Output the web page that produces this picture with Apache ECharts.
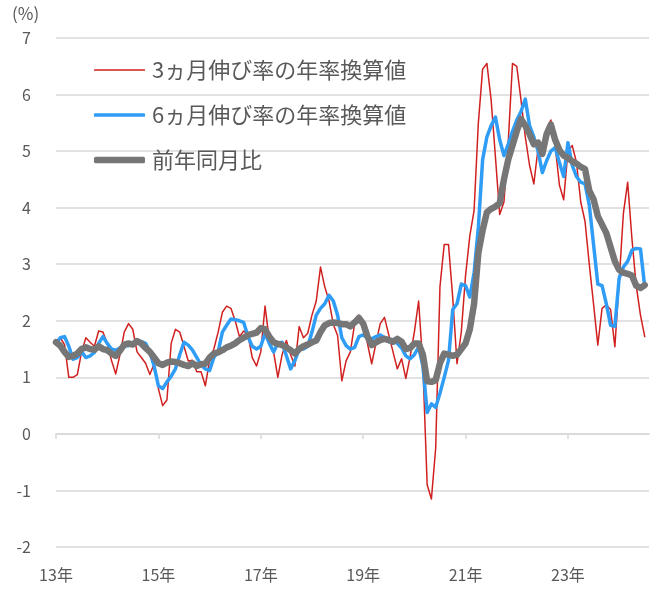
<!DOCTYPE html>
<html>
<head>
<meta charset="utf-8">
<script src="https://cdn.jsdelivr.net/npm/echarts@6/dist/echarts.min.js"></script>
<style>
html,body{margin:0;padding:0;background:#fff;}
#chart{width:657px;height:589px;}
</style>
</head>
<body>
<div id="chart"></div>
<script>
// Monthly categories 2013-01 .. 2024-08
const months = [];
for (let y = 2013; y <= 2024; y++) {
  for (let m = 1; m <= 12; m++) {
    if (y === 2024 && m > 8) break;
    months.push(y + '-' + (m < 10 ? '0' + m : m));
  }
}
const seriesNames = ['3ヵ月伸び率の年率換算値', '6ヵ月伸び率の年率換算値', '前年同月比'];
const yTicks = { min: -2, max: 7, step: 1 };

const threeMonth = [
  1.62,1.7,1.58,1.0,1.0,1.05,1.45,1.7,1.62,1.55,1.82,1.8,
  1.6,1.3,1.06,1.4,1.8,1.95,1.85,1.45,1.35,1.25,1.05,1.24,
  0.8,0.5,0.6,1.6,1.85,1.8,1.55,1.29,1.3,1.1,1.1,0.85,
  1.3,1.5,1.8,2.15,2.26,2.22,2.0,1.72,1.82,1.75,1.35,1.2,
  1.45,2.26,1.65,1.45,1.0,1.4,1.65,1.4,1.2,1.9,1.7,1.78,
  2.1,2.35,2.95,2.6,2.35,1.94,1.74,0.94,1.29,1.45,1.95,2.1,
  2.0,1.6,1.24,1.6,1.95,2.06,1.75,1.45,1.15,1.33,0.98,1.36,
  1.8,2.35,1.2,-0.9,-1.15,-0.25,2.6,3.35,3.35,2.4,1.24,1.8,
  2.8,3.5,3.95,5.5,6.45,6.55,5.9,4.9,3.88,4.1,5.15,6.55,
  6.5,5.9,5.25,4.75,4.42,5.05,4.95,5.4,5.55,5.1,4.4,4.14,
  5.0,5.1,4.8,4.1,3.76,3.0,2.3,1.57,2.22,2.28,2.2,1.54,
  2.7,3.9,4.45,3.45,2.62,2.1,1.72
];
const sixMonth = [
  1.6,1.7,1.72,1.55,1.32,1.35,1.45,1.35,1.38,1.44,1.6,1.72,
  1.6,1.5,1.48,1.52,1.56,1.56,1.6,1.65,1.63,1.6,1.45,1.2,
  0.85,0.8,0.92,1.02,1.15,1.4,1.62,1.57,1.48,1.35,1.22,1.15,
  1.12,1.35,1.45,1.8,1.92,2.03,2.02,2.0,1.97,1.72,1.55,1.5,
  1.55,1.78,1.6,1.45,1.6,1.62,1.38,1.15,1.3,1.5,1.5,1.55,
  1.8,2.1,2.22,2.3,2.45,2.35,2.1,1.7,1.56,1.5,1.53,1.72,
  1.75,1.7,1.68,1.72,1.75,1.7,1.63,1.67,1.6,1.52,1.38,1.33,
  1.4,1.54,1.2,0.38,0.53,0.47,0.72,1.0,1.3,2.2,2.3,2.65,
  2.62,2.42,2.85,3.65,4.85,5.25,5.45,5.6,5.2,4.92,5.12,5.35,
  5.55,5.7,5.92,5.45,5.25,5.0,4.62,4.83,5.0,5.06,4.8,4.55,
  5.15,4.75,4.55,4.45,4.42,4.05,3.35,2.65,2.62,2.3,1.92,1.9,
  2.75,2.95,3.05,3.25,3.28,3.27,2.6
];
const yoy = [
  1.62,1.56,1.45,1.36,1.38,1.42,1.5,1.53,1.5,1.49,1.55,1.5,
  1.48,1.42,1.38,1.47,1.58,1.6,1.58,1.64,1.6,1.52,1.45,1.35,
  1.25,1.22,1.26,1.28,1.27,1.25,1.22,1.2,1.25,1.2,1.23,1.24,
  1.35,1.42,1.44,1.48,1.53,1.56,1.6,1.66,1.7,1.75,1.77,1.79,
  1.87,1.85,1.72,1.62,1.59,1.57,1.53,1.48,1.42,1.5,1.55,1.58,
  1.62,1.65,1.8,1.92,1.96,1.97,1.96,1.94,1.94,1.9,1.97,2.05,
  1.95,1.72,1.57,1.62,1.66,1.68,1.66,1.63,1.68,1.63,1.5,1.52,
  1.6,1.6,1.4,0.93,0.92,0.95,1.25,1.42,1.4,1.38,1.4,1.5,
  1.6,1.85,2.3,3.2,3.6,3.92,3.98,4.02,4.08,4.5,4.85,5.1,
  5.35,5.57,5.45,5.3,5.12,5.15,4.95,5.3,5.47,5.2,5.02,4.92,
  4.88,4.82,4.78,4.72,4.68,4.3,4.15,3.85,3.7,3.55,3.3,3.05,
  2.9,2.85,2.83,2.8,2.62,2.58,2.63
];

const colors = ['#d0201f', '#2f9cf6', '#767676'];
const widths = [1.5, 3.5, 6.5];
const textColor = '#595959';
const gridColor = '#d9d9d9';
const tickEvery = 24;

const chart = echarts.init(document.getElementById('chart'), null, { renderer: 'canvas' });

const legendTops = [57, 102, 147];
const legends = seriesNames.map((n, k) => ({
  data: [{ name: n, icon: 'roundRect' }],
  left: 94,
  top: legendTops[k],
  padding: 0,
  itemWidth: 51,
  itemHeight: widths[k],
  itemGap: 0,
  selectedMode: false,
  textStyle: { color: textColor, fontSize: 22, fontFamily: 'Noto Sans CJK JP', lineHeight: 26, padding: [0, 0, 0, 2] }
}));

const seriesData = [threeMonth, sixMonth, yoy];

chart.setOption({
  animation: false,
  backgroundColor: '#fff',
  textStyle: { fontFamily: 'Noto Sans CJK JP' },
  graphic: [{
    type: 'text', left: 12, top: 5,
    style: { text: '(%)', fill: textColor, fontSize: 17, fontFamily: 'Noto Sans CJK JP' }
  }],
  legend: legends,
  grid: { left: 56, right: 8, top: 38, bottom: 42 },
  xAxis: [{
    type: 'category',
    data: months,
    boundaryGap: false,
    position: 'bottom',
    axisLine: { show: false, onZero: false },
    axisTick: { show: false },
    splitLine: { show: false },
    axisLabel: {
      interval: (i) => i % tickEvery === 0,
      formatter: (v) => v.slice(2, 4) + '年',
      color: textColor, fontSize: 16, margin: 20,
      fontFamily: 'Noto Sans CJK JP'
    }
  }, {
    type: 'category',
    data: months,
    boundaryGap: false,
    position: 'bottom',
    axisLine: { show: true, onZero: true, lineStyle: { color: gridColor, width: 1.5 } },
    axisTick: { show: true, interval: (i) => i % tickEvery === 0, length: 5, lineStyle: { color: gridColor, width: 1.5 } },
    axisLabel: { show: false },
    splitLine: { show: false }
  }],
  yAxis: {
    type: 'value',
    min: yTicks.min, max: yTicks.max, interval: yTicks.step,
    axisLine: { show: false },
    axisTick: { show: false },
    axisLabel: { color: textColor, fontSize: 16, margin: 25, fontFamily: 'Noto Sans CJK JP' },
    splitLine: { lineStyle: { color: gridColor, width: 1.5 } }
  },
  series: seriesNames.map((n, k) => ({
    name: n,
    type: 'line',
    xAxisIndex: 0,
    data: seriesData[k],
    symbol: 'none',
    showSymbol: false,
    smooth: false,
    lineStyle: { color: colors[k], width: widths[k], cap: 'round', join: 'round' },
    itemStyle: { color: colors[k] },
    emphasis: { disabled: true },
    z: 2 + k
  }))
});
</script>
</body>
</html>
